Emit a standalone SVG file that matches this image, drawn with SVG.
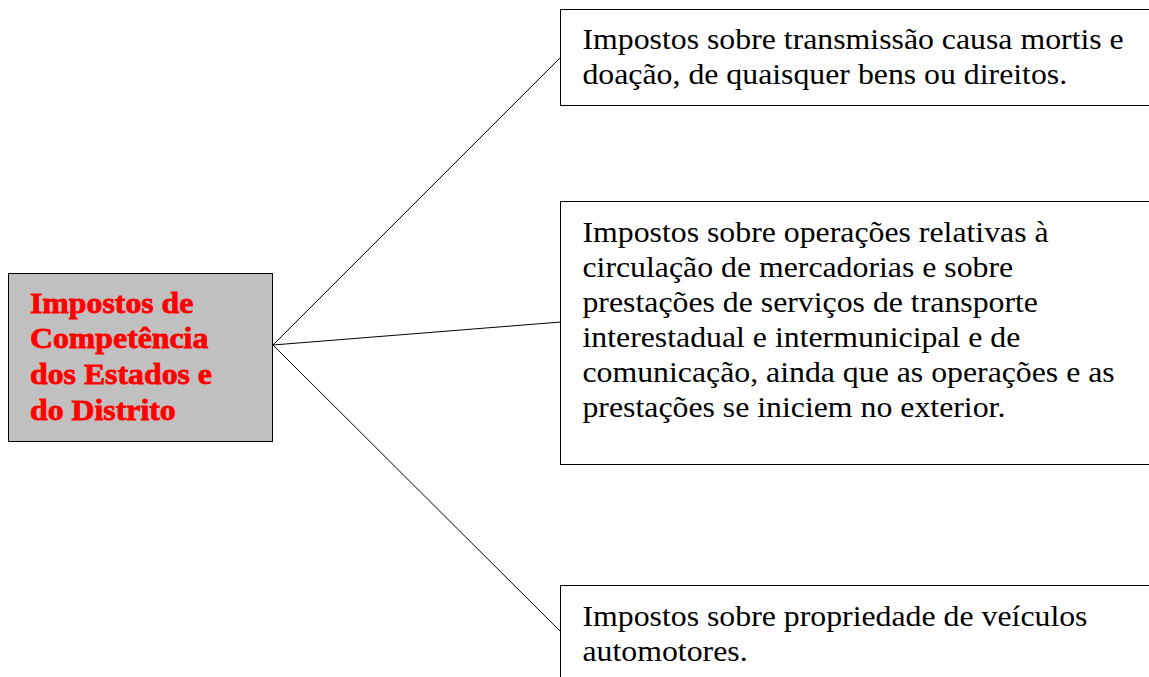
<svg xmlns="http://www.w3.org/2000/svg" width="1149" height="677" viewBox="0 0 1149 677">
<style>
.box{fill:#fff;stroke:#000;stroke-width:1}
.t{font-family:"Liberation Serif","Times New Roman",serif;font-size:30px;fill:#000}
.h{font-family:"Liberation Serif","Times New Roman",serif;font-size:30px;font-weight:bold;fill:#ff0000;stroke:#ff0000;stroke-width:0.8}
.c{stroke:#000;stroke-width:1;fill:none}
</style>
<rect width="1149" height="677" fill="#fff"/>
<g id="connectors">
<line class="c" x1="273" y1="345" x2="561" y2="57"/>
<line class="c" x1="273" y1="345" x2="561" y2="322"/>
<line class="c" x1="273" y1="345" x2="561" y2="632"/>
</g>
<g id="root">
<rect x="8.5" y="273.5" width="264" height="168" fill="#c0c0c0" stroke="#000"/>
<g transform="scale(1.06,1)">
<text class="h" x="28.3" y="313">Impostos de</text>
<text class="h" x="28.3" y="348">Competência</text>
<text class="h" x="28.3" y="384">dos Estados e</text>
<text class="h" x="28.3" y="420">do Distrito</text>
</g>
</g>
<g id="n1">
<rect class="box" x="560.5" y="9.5" width="600" height="96"/>
<g transform="scale(1.06,1)">
<text class="t" x="549.5" y="49">Impostos sobre transmissão causa mortis e</text>
<text class="t" x="549.5" y="84">doação, de quaisquer bens ou direitos.</text>
</g>
</g>
<g id="n2">
<rect class="box" x="560.5" y="201.5" width="600" height="263"/>
<g transform="scale(1.06,1)">
<text class="t" x="549.5" y="242">Impostos sobre operações relativas à</text>
<text class="t" x="549.5" y="277">circulação de mercadorias e sobre</text>
<text class="t" x="549.5" y="312">prestações de serviços de transporte</text>
<text class="t" x="549.5" y="347">interestadual e intermunicipal e de</text>
<text class="t" x="549.5" y="382">comunicação, ainda que as operações e as</text>
<text class="t" x="549.5" y="417">prestações se iniciem no exterior.</text>
</g>
</g>
<g id="n3">
<rect class="box" x="560.5" y="585.5" width="600" height="120"/>
<g transform="scale(1.06,1)">
<text class="t" x="549.5" y="626">Impostos sobre propriedade de veículos</text>
<text class="t" x="549.5" y="661">automotores.</text>
</g>
</g>
</svg>
